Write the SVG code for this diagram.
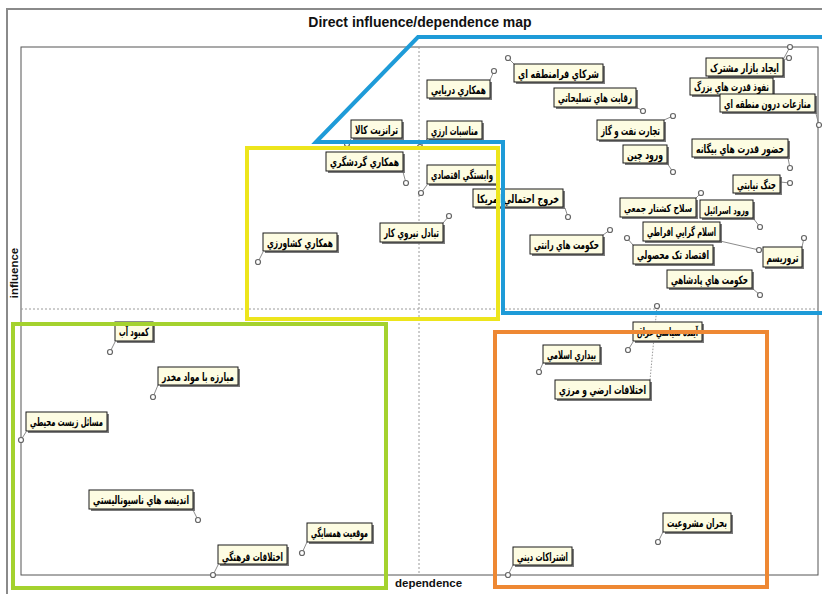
<svg xmlns="http://www.w3.org/2000/svg" width="822" height="594" viewBox="0 0 822 594">
  <defs>
    <style>
      .frame{fill:#fff;stroke:#8a8a8a;stroke-width:2}
      .plot{fill:#fff;stroke:#555;stroke-width:1}
      .axis{stroke:#9a9a9a;stroke-width:1;stroke-dasharray:2 2;fill:none}
      .title{font-family:"Liberation Sans",Arial,sans-serif;font-weight:bold;font-size:14px;fill:#111}
      .axlbl{font-family:"Liberation Sans",Arial,sans-serif;font-weight:bold;font-size:11.5px;fill:#111}
      .sh{fill:#5a5a5a;opacity:0.8}
      .box{fill:#fdfce2;stroke:#1a1a1a;stroke-width:1}
      .lbl{font-family:"DejaVu Sans Condensed","DejaVu Sans",sans-serif;font-stretch:condensed;font-weight:bold;font-size:11.5px;fill:#000}
      .lbl.sm{font-size:10.5px}
      .lead{stroke:#8c8c8c;stroke-width:1;fill:none}
      .lead-d{stroke:#9a9a9a;stroke-width:1;stroke-dasharray:1.5 1.5;fill:none}
      .pt{fill:#fff;stroke:#666;stroke-width:1.2}
      .zone{fill:none;stroke-width:4;stroke-linejoin:miter}
    </style>
  </defs>

  <!-- frame and plot area -->
  <rect class="frame" x="7" y="9" width="822" height="592"/>
  <rect class="plot" x="21" y="47" width="797" height="528"/>
  <line class="axis" x1="419" y1="47" x2="419" y2="575"/>
  <line class="axis" x1="21" y1="309" x2="818" y2="309"/>

  <text class="title" x="420" y="27" text-anchor="middle">Direct influence/dependence map</text>
  <text class="axlbl" transform="translate(18,273) rotate(-90)" text-anchor="middle">influence</text>
  <text class="axlbl" x="395" y="587">dependence</text>

  <!-- leader lines from label corners to plotted points -->
  <g id="connectors">
    <line class="lead" x1="783" y1="60" x2="789" y2="58"/>
    <line class="lead" x1="773" y1="78" x2="790" y2="47"/>
    <line class="lead" x1="815" y1="110" x2="819" y2="125"/>
    <line class="lead" x1="514" y1="64" x2="508" y2="58"/>
    <line class="lead" x1="490" y1="80" x2="494" y2="71"/>
    <line class="lead" x1="636" y1="107" x2="643" y2="111"/>
    <line class="lead" x1="664" y1="120" x2="673" y2="116"/>
    <line class="lead" x1="667" y1="163" x2="673" y2="172"/>
    <line class="lead" x1="427" y1="139" x2="420" y2="147"/>
    <line class="lead" x1="351" y1="139" x2="347" y2="144"/>
    <line class="lead" x1="403" y1="172" x2="406" y2="183"/>
    <line class="lead" x1="427" y1="185" x2="421" y2="193"/>
    <line class="lead" x1="565" y1="208" x2="568" y2="217"/>
    <line class="lead" x1="443" y1="223" x2="449" y2="216"/>
    <line class="lead" x1="263" y1="252" x2="258" y2="262"/>
    <line class="lead" x1="788" y1="158" x2="790" y2="168"/>
    <line class="lead" x1="780" y1="182" x2="790" y2="183"/>
    <line class="lead" x1="753" y1="218" x2="760" y2="227"/>
    <line class="lead" x1="696" y1="198" x2="701" y2="193"/>
    <line class="lead" x1="720" y1="241" x2="759" y2="250"/>
    <line class="lead" x1="603" y1="235" x2="610" y2="230"/>
    <line class="lead" x1="633" y1="245" x2="627" y2="238"/>
    <line class="lead" x1="802" y1="247" x2="804" y2="238"/>
    <line class="lead" x1="752" y1="288" x2="760" y2="295"/>
    <line class="lead" x1="633" y1="342" x2="628" y2="350"/>
    <line class="lead" x1="543" y1="363" x2="539" y2="372"/>
    <line class="lead-d" x1="650" y1="380" x2="657" y2="306"/>
    <line class="lead" x1="663" y1="532" x2="658" y2="542"/>
    <line class="lead" x1="513" y1="565" x2="508" y2="575"/>
    <line class="lead" x1="115" y1="342" x2="110" y2="352"/>
    <line class="lead" x1="158" y1="385" x2="153" y2="397"/>
    <line class="lead" x1="26" y1="432" x2="21" y2="440"/>
    <line class="lead" x1="193" y1="510" x2="198" y2="520"/>
    <line class="lead" x1="307" y1="542" x2="302" y2="553"/>
    <line class="lead" x1="218" y1="565" x2="213" y2="575"/>
  </g>

  <!-- nodes: plotted point + label -->
  <g id="n01"><circle class="pt" cx="789" cy="58" r="2.5"/><rect class="sh" x="708" y="60" width="77" height="18"/><rect class="box" x="706" y="58" width="77" height="18"/><text class="lbl" x="744.5" y="71.5" text-anchor="middle" textLength="69" lengthAdjust="spacingAndGlyphs">ايجاد بازار مشترک</text></g>
  <g id="n02"><circle class="pt" cx="790" cy="47" r="2.5"/><rect class="sh" x="692" y="80" width="83" height="17"/><rect class="box" x="690" y="78" width="83" height="17"/><text class="lbl" x="731.5" y="91" text-anchor="middle" textLength="75" lengthAdjust="spacingAndGlyphs">نفوذ قدرت هاي بزرگ</text></g>
  <g id="n03"><circle class="pt" cx="819" cy="125" r="2.5"/><rect class="sh" x="722" y="96" width="95" height="18"/><rect class="box" x="720" y="94" width="95" height="18"/><text class="lbl" x="811" y="107.5" text-anchor="end" textLength="87" lengthAdjust="spacingAndGlyphs">منازعات درون منطقه اي</text></g>
  <g id="n04"><circle class="pt" cx="508" cy="58" r="2.5"/><rect class="sh" x="516" y="66" width="89" height="18"/><rect class="box" x="514" y="64" width="89" height="18"/><text class="lbl" x="558.5" y="77.5" text-anchor="middle" textLength="81" lengthAdjust="spacingAndGlyphs">شركاي فرامنطقه اي</text></g>
  <g id="n05"><circle class="pt" cx="494" cy="71" r="2.5"/><rect class="sh" x="429" y="82" width="63" height="18"/><rect class="box" x="427" y="80" width="63" height="18"/><text class="lbl" x="458.5" y="93.5" text-anchor="middle" textLength="55" lengthAdjust="spacingAndGlyphs">همكاري دريايي</text></g>
  <g id="n06"><circle class="pt" cx="643" cy="111" r="2.5"/><rect class="sh" x="556" y="90" width="82" height="19"/><rect class="box" x="554" y="88" width="82" height="19"/><text class="lbl" x="595" y="102" text-anchor="middle" textLength="74" lengthAdjust="spacingAndGlyphs">رقابت هاي تسليحاتي</text></g>
  <g id="n07"><circle class="pt" cx="673" cy="116" r="2.5"/><rect class="sh" x="599" y="122" width="67" height="20"/><rect class="box" x="597" y="120" width="67" height="20"/><text class="lbl" x="630.5" y="134.5" text-anchor="middle" textLength="59" lengthAdjust="spacingAndGlyphs">تجارت نفت و گاز</text></g>
  <g id="n08"><circle class="pt" cx="673" cy="172" r="2.5"/><rect class="sh" x="625" y="147" width="44" height="18"/><rect class="box" x="623" y="145" width="44" height="18"/><text class="lbl" x="645" y="158.5" text-anchor="middle" textLength="36" lengthAdjust="spacingAndGlyphs">ورود چين</text></g>
  <g id="n09"><circle class="pt" cx="420" cy="147" r="2.5"/><rect class="sh" x="429" y="123" width="55" height="18"/><rect class="box" x="427" y="121" width="55" height="18"/><text class="lbl" x="454.5" y="134.5" text-anchor="middle" textLength="47" lengthAdjust="spacingAndGlyphs">مناسبات ارزي</text></g>
  <g id="n10"><circle class="pt" cx="347" cy="144" r="2.5"/><rect class="sh" x="353" y="122" width="51" height="18"/><rect class="box" x="351" y="120" width="51" height="18"/><text class="lbl" x="376.5" y="133.5" text-anchor="middle" textLength="43" lengthAdjust="spacingAndGlyphs">ترانزيت كالا</text></g>
  <g id="n11"><circle class="pt" cx="406" cy="183" r="2.5"/><rect class="sh" x="328" y="154" width="77" height="19"/><rect class="box" x="326" y="152" width="77" height="19"/><text class="lbl" x="364.5" y="166" text-anchor="middle" textLength="69" lengthAdjust="spacingAndGlyphs">همكاري گردشگري</text></g>
  <g id="n12"><circle class="pt" cx="421" cy="193" r="2.5"/><rect class="sh" x="429" y="167" width="70" height="19"/><rect class="box" x="427" y="165" width="70" height="19"/><text class="lbl" x="462" y="179" text-anchor="middle" textLength="62" lengthAdjust="spacingAndGlyphs">وابستگي اقتصادي</text></g>
  <g id="n13"><circle class="pt" cx="568" cy="217" r="2.5"/><rect class="sh" x="475" y="191" width="90" height="18"/><rect class="box" x="473" y="189" width="90" height="18"/><text class="lbl" x="518" y="202.5" text-anchor="middle" textLength="82" lengthAdjust="spacingAndGlyphs">خروج احتمالي امريكا</text></g>
  <g id="n14"><circle class="pt" cx="449" cy="216" r="2.5"/><rect class="sh" x="382" y="225" width="63" height="19"/><rect class="box" x="380" y="223" width="63" height="19"/><text class="lbl" x="411.5" y="237" text-anchor="middle" textLength="55" lengthAdjust="spacingAndGlyphs">تبادل نيروي كار</text></g>
  <g id="n15"><circle class="pt" cx="258" cy="262" r="2.5"/><rect class="sh" x="265" y="235" width="74" height="18"/><rect class="box" x="263" y="233" width="74" height="18"/><text class="lbl" x="300" y="246.5" text-anchor="middle" textLength="66" lengthAdjust="spacingAndGlyphs">همكاري كشاورزي</text></g>
  <g id="n16"><circle class="pt" cx="790" cy="168" r="2.5"/><rect class="sh" x="694" y="141" width="96" height="18"/><rect class="box" x="692" y="139" width="96" height="18"/><text class="lbl" x="740" y="152.5" text-anchor="middle" textLength="88" lengthAdjust="spacingAndGlyphs">حضور قدرت هاي بيگانه</text></g>
  <g id="n17"><circle class="pt" cx="790" cy="183" r="2.5"/><rect class="sh" x="735" y="177" width="47" height="18"/><rect class="box" x="733" y="175" width="47" height="18"/><text class="lbl" x="756.5" y="188.5" text-anchor="middle" textLength="39" lengthAdjust="spacingAndGlyphs">جنگ نيابتي</text></g>
  <g id="n18"><circle class="pt" cx="760" cy="227" r="2.5"/><rect class="sh" x="702" y="202" width="53" height="18"/><rect class="box" x="700" y="200" width="53" height="18"/><text class="lbl sm" x="726.5" y="213.5" text-anchor="middle" textLength="45" lengthAdjust="spacingAndGlyphs">ورود اسرائيل</text></g>
  <g id="n19"><circle class="pt" cx="701" cy="193" r="2.5"/><rect class="sh" x="622" y="200" width="76" height="19"/><rect class="box" x="620" y="198" width="76" height="19"/><text class="lbl sm" x="658" y="212" text-anchor="middle" textLength="68" lengthAdjust="spacingAndGlyphs">سلاح كشتار جمعي</text></g>
  <g id="n20"><circle class="pt" cx="759" cy="250" r="2.5"/><rect class="sh" x="645" y="224" width="77" height="19"/><rect class="box" x="643" y="222" width="77" height="19"/><text class="lbl" x="681.5" y="236" text-anchor="middle" textLength="69" lengthAdjust="spacingAndGlyphs">اسلام گرايي افراطي</text></g>
  <g id="n21"><circle class="pt" cx="610" cy="230" r="2.5"/><rect class="sh" x="532" y="237" width="73" height="19"/><rect class="box" x="530" y="235" width="73" height="19"/><text class="lbl" x="566.5" y="249" text-anchor="middle" textLength="65" lengthAdjust="spacingAndGlyphs">حكومت هاي رانتي</text></g>
  <g id="n22"><circle class="pt" cx="627" cy="238" r="2.5"/><rect class="sh" x="635" y="247" width="80" height="19"/><rect class="box" x="633" y="245" width="80" height="19"/><text class="lbl" x="673" y="259" text-anchor="middle" textLength="72" lengthAdjust="spacingAndGlyphs">اقتصاد تک محصولي</text></g>
  <g id="n23"><circle class="pt" cx="804" cy="238" r="2.5"/><rect class="sh" x="765" y="249" width="39" height="20"/><rect class="box" x="763" y="247" width="39" height="20"/><text class="lbl" x="782.5" y="261.5" text-anchor="middle" textLength="32" lengthAdjust="spacingAndGlyphs">تروريسم</text></g>
  <g id="n24"><circle class="pt" cx="760" cy="295" r="2.5"/><rect class="sh" x="669" y="272" width="85" height="18"/><rect class="box" x="667" y="270" width="85" height="18"/><text class="lbl" x="709.5" y="283.5" text-anchor="middle" textLength="77" lengthAdjust="spacingAndGlyphs">حكومت هاي پادشاهي</text></g>
  <g id="n25"><circle class="pt" cx="628" cy="350" r="2.5"/><rect class="sh" x="635" y="324" width="69" height="19"/><rect class="box" x="633" y="322" width="69" height="19"/><text class="lbl" x="667.5" y="336" text-anchor="middle" textLength="61" lengthAdjust="spacingAndGlyphs">آينده سياسي عراق</text></g>
  <g id="n26"><circle class="pt" cx="539" cy="372" r="2.5"/><rect class="sh" x="545" y="347" width="57" height="18"/><rect class="box" x="543" y="345" width="57" height="18"/><text class="lbl" x="571.5" y="358.5" text-anchor="middle" textLength="49" lengthAdjust="spacingAndGlyphs">بيداري اسلامي</text></g>
  <g id="n27"><circle class="pt" cx="657" cy="306" r="2.5"/><rect class="sh" x="557" y="382" width="95" height="19"/><rect class="box" x="555" y="380" width="95" height="19"/><text class="lbl" x="602.5" y="394" text-anchor="middle" textLength="87" lengthAdjust="spacingAndGlyphs">اختلافات ارضي و مرزي</text></g>
  <g id="n28"><circle class="pt" cx="658" cy="542" r="2.5"/><rect class="sh" x="665" y="515" width="68" height="19"/><rect class="box" x="663" y="513" width="68" height="19"/><text class="lbl" x="697" y="527" text-anchor="middle" textLength="60" lengthAdjust="spacingAndGlyphs">بحران مشروعيت</text></g>
  <g id="n29"><circle class="pt" cx="508" cy="575" r="2.5"/><rect class="sh" x="515" y="549" width="59" height="18"/><rect class="box" x="513" y="547" width="59" height="18"/><text class="lbl" x="542.5" y="560.5" text-anchor="middle" textLength="51" lengthAdjust="spacingAndGlyphs">اشتراكات ديني</text></g>
  <g id="n30"><circle class="pt" cx="110" cy="352" r="2.5"/><rect class="sh" x="117" y="324" width="38" height="19"/><rect class="box" x="115" y="322" width="38" height="19"/><text class="lbl" x="134" y="336" text-anchor="middle" textLength="30" lengthAdjust="spacingAndGlyphs">كمبود آب</text></g>
  <g id="n31"><circle class="pt" cx="153" cy="397" r="2.5"/><rect class="sh" x="160" y="369" width="80" height="18"/><rect class="box" x="158" y="367" width="80" height="18"/><text class="lbl" x="198" y="380.5" text-anchor="middle" textLength="72" lengthAdjust="spacingAndGlyphs">مبارزه با مواد مخدر</text></g>
  <g id="n32"><circle class="pt" cx="21" cy="440" r="2.5"/><rect class="sh" x="28" y="414" width="81" height="19"/><rect class="box" x="26" y="412" width="81" height="19"/><text class="lbl" x="66.5" y="426" text-anchor="middle" textLength="73" lengthAdjust="spacingAndGlyphs">مسائل زيست محيطي</text></g>
  <g id="n33"><circle class="pt" cx="198" cy="520" r="2.5"/><rect class="sh" x="91" y="492" width="104" height="19"/><rect class="box" x="89" y="490" width="104" height="19"/><text class="lbl" x="141" y="504" text-anchor="middle" textLength="96" lengthAdjust="spacingAndGlyphs">انديشه هاي  ناسيوناليستي</text></g>
  <g id="n34"><circle class="pt" cx="302" cy="553" r="2.5"/><rect class="sh" x="309" y="525" width="65" height="19"/><rect class="box" x="307" y="523" width="65" height="19"/><text class="lbl" x="339.5" y="537" text-anchor="middle" textLength="57" lengthAdjust="spacingAndGlyphs">موقعيت همسايگي</text></g>
  <g id="n35"><circle class="pt" cx="213" cy="575" r="2.5"/><rect class="sh" x="220" y="547" width="69" height="19"/><rect class="box" x="218" y="545" width="69" height="19"/><text class="lbl" x="252.5" y="561" text-anchor="middle" textLength="61" lengthAdjust="spacingAndGlyphs">اختلافات فرهنگي</text></g>

  <!-- grouping outlines -->
  <g id="zones">
    <polygon class="zone" stroke="#1e9bd8" points="316,142 418,37 830,37 830,313 503,313 503,142"/>
    <rect class="zone" stroke="#ede51c" stroke-width="3.5" x="247" y="148" width="251" height="171"/>
    <rect class="zone" stroke="#a4d22e" x="13" y="324" width="373" height="264"/>
    <rect class="zone" stroke="#ee8833" x="495" y="332" width="272" height="255"/>
  </g>
</svg>
